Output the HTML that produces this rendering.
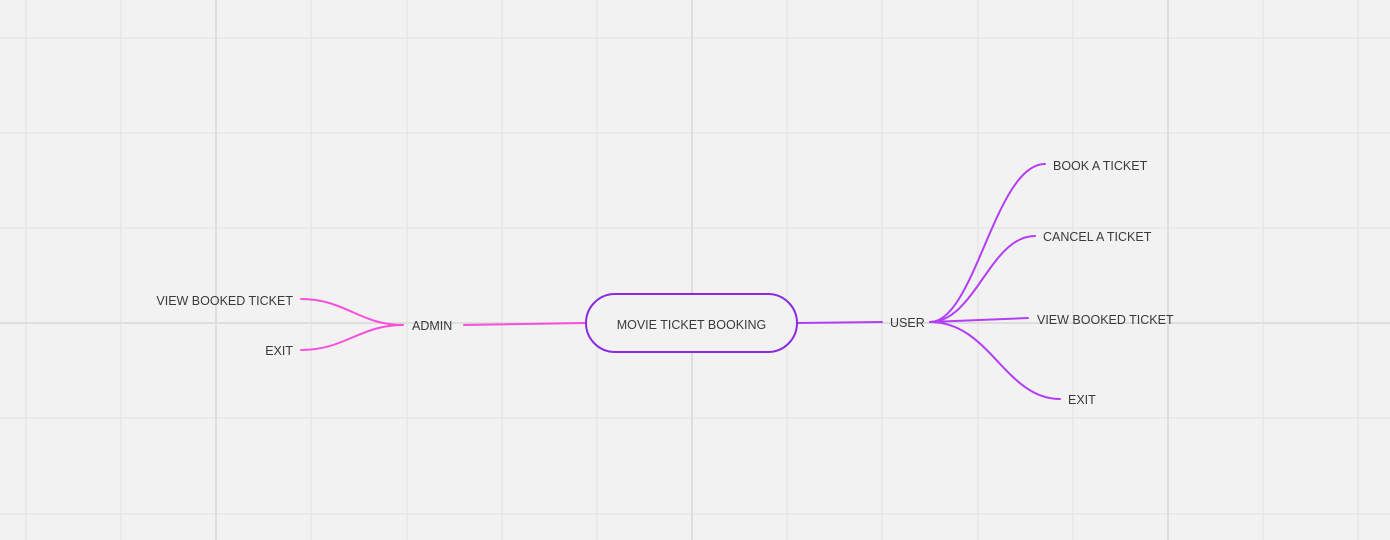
<!DOCTYPE html>
<html><head><meta charset="utf-8"><style>
html,body{margin:0;padding:0;background:#f2f2f2;}
svg{display:block}
text{font-family:"Liberation Sans",sans-serif;font-size:12.5px;fill:#3a3a3a;}
</style></head><body>
<svg width="1390" height="540" viewBox="0 0 1390 540" xmlns="http://www.w3.org/2000/svg">
<rect width="1390" height="540" fill="#f2f2f2"/>
<g stroke="#e6e6e6" stroke-width="1.5">
<line x1="26" y1="0" x2="26" y2="540"/><line x1="121" y1="0" x2="121" y2="540"/>
<line x1="311" y1="0" x2="311" y2="540"/><line x1="407" y1="0" x2="407" y2="540"/>
<line x1="502" y1="0" x2="502" y2="540"/><line x1="597" y1="0" x2="597" y2="540"/>
<line x1="787" y1="0" x2="787" y2="540"/><line x1="882" y1="0" x2="882" y2="540"/>
<line x1="978" y1="0" x2="978" y2="540"/><line x1="1073" y1="0" x2="1073" y2="540"/>
<line x1="1263" y1="0" x2="1263" y2="540"/><line x1="1358" y1="0" x2="1358" y2="540"/>
<line x1="0" y1="38" x2="1390" y2="38"/><line x1="0" y1="133" x2="1390" y2="133"/>
<line x1="0" y1="228" x2="1390" y2="228"/><line x1="0" y1="418" x2="1390" y2="418"/>
<line x1="0" y1="514" x2="1390" y2="514"/>
</g>
<g stroke="#dedede" stroke-width="2">
<line x1="216" y1="0" x2="216" y2="540"/><line x1="692" y1="0" x2="692" y2="540"/>
<line x1="1168" y1="0" x2="1168" y2="540"/><line x1="0" y1="323" x2="1390" y2="323"/>
</g>
<g fill="none" stroke="#f94fdc" stroke-width="2" stroke-linecap="round">
<path d="M301,299 C345,299 360,325 403,325"/>
<path d="M301,350 C345,350 360,325 403,325"/>
<path d="M464,325 L586,323"/>
</g>
<g fill="none" stroke="#b33ef5" stroke-width="2" stroke-linecap="round">
<path d="M797,323 L882,322"/>
<path d="M930,322 C975,322 995,164 1045,164"/>
<path d="M930,322 C975,322 990,236 1035,236"/>
<path d="M930,322 L1028,318"/>
<path d="M930,322 C990,322 1005,399 1060,399"/>
</g>
<rect x="586" y="294" width="211" height="58" rx="29" fill="#f2f2f2" stroke="#8a2be2" stroke-width="2"/>
<text x="691.5" y="329" text-anchor="middle">MOVIE TICKET BOOKING</text>
<text x="412" y="330">ADMIN</text>
<text x="293" y="305" text-anchor="end">VIEW BOOKED TICKET</text>
<text x="293" y="355" text-anchor="end">EXIT</text>
<text x="890" y="327">USER</text>
<text x="1053" y="170">BOOK A TICKET</text>
<text x="1043" y="241">CANCEL A TICKET</text>
<text x="1037" y="324">VIEW BOOKED TICKET</text>
<text x="1068" y="404">EXIT</text>
</svg>
</body></html>
